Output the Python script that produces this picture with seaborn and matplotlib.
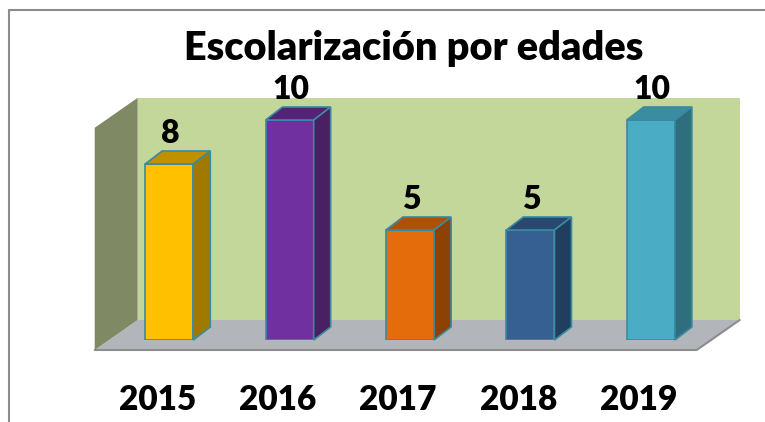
import matplotlib
matplotlib.use('Agg')
import matplotlib.pyplot as plt
from matplotlib.patches import Polygon
from matplotlib.lines import Line2D
import seaborn as sns

anios = ['2015', '2016', '2017', '2018', '2019']
valores = [8, 10, 5, 5, 10]
color_frente = ['#FFC000', '#7030A0', '#E46C0A', '#366092', '#4BACC6']
color_tapa = ['#BF9000', '#542378', '#AC5108', '#284870', '#3A8CA0']
color_lado = ['#A07A00', '#4A1F63', '#8C4205', '#223E5F', '#2F6E7E']
titulo = 'Escolarización por edades'

sns.set_theme(style='white')
plt.rcParams['font.family'] = ['Lato', 'DejaVu Sans']

W, H = 765, 422
fig = plt.figure(figsize=(W / 100, H / 100), dpi=100)

# plano frontal de las barras (en pixeles de la figura)
ax = fig.add_axes([109 / W, (H - 340) / H, 602 / W, 220 / H])
sns.barplot(x=anios, y=valores, hue=anios, palette=color_frente, legend=False,
            width=0.4, saturation=1, edgecolor='#3B8AA0', linewidth=1.2,
            ax=ax, zorder=3)
ax.set_xlim(-0.5, 4.5)
ax.set_ylim(0, 10)
ax.axis('off')

# las barras de seaborn, antes de anadir mas parches
barras = sorted(ax.patches[:], key=lambda p: p.get_x())
barras = [p for p in barras if p.get_height() > 0]

# pixeles por unidad de datos
sx = 602 / 5
sy = 220 / 10


def desp(x, y, dx, dy):
    return (x + dx / sx, y + dy / sy)


# paredes y suelo del "3D"
fr = (-14.3, -10)
bk = (28.7, 20)
x0, x1 = -0.5, 4.5
ytop = 10.1
suelo = [desp(x0, 0, *fr), desp(x1, 0, *fr), desp(x1, 0, *bk), desp(x0, 0, *bk)]
fondo = [desp(x0, 0, *bk), desp(x1, 0, *bk), desp(x1, ytop, *bk), desp(x0, ytop, *bk)]
lateral = [desp(x0, 0, *fr), desp(x0, 0, *bk), desp(x0, ytop, *bk), desp(x0, ytop, *fr)]
ax.add_patch(Polygon(fondo, fc='#C4D79B', ec='none', zorder=0.5, clip_on=False))
ax.add_patch(Polygon(suelo, fc='#B2B6BA', ec='none', zorder=1, clip_on=False))
ax.add_patch(Polygon(lateral, fc='#7F8A64', ec='none', zorder=1.5, clip_on=False))
borde = [desp(x0, 0, *fr), desp(x1, 0, *fr), desp(x1, 0, *bk)]
ax.plot([p[0] for p in borde], [p[1] for p in borde], color='#8C8C8C', lw=1.5,
        zorder=1.2, clip_on=False)

# caras superior y lateral de cada barra
bd = (17, 13)
for i, p in enumerate(barras):
    x = p.get_x()
    w = p.get_width()
    h = p.get_height()
    tapa = [(x, h), (x + w, h), desp(x + w, h, *bd), desp(x, h, *bd)]
    lado = [(x + w, 0), desp(x + w, 0, *bd), desp(x + w, h, *bd), (x + w, h)]
    ax.add_patch(Polygon(tapa, fc=color_tapa[i], ec='#3B8AA0', lw=1.2,
                         zorder=3, clip_on=False))
    ax.add_patch(Polygon(lado, fc=color_lado[i], ec='#3B8AA0', lw=1.2,
                         zorder=3, clip_on=False))
    ax.annotate(str(valores[i]), (x + w / 2, h), xytext=(0.7, 21 * 0.72),
                textcoords='offset points', ha='center', va='baseline',
                fontsize=23, fontweight='heavy', color='black', annotation_clip=False)
    ax.annotate(anios[i], (x + w / 2, 0), xytext=(-12 * 0.72, -70 * 0.72),
                textcoords='offset points', ha='center', va='baseline',
                fontsize=24, fontweight='heavy', color='black', annotation_clip=False)

fig.text(414 / W, 1 - 60 / H, titulo, ha='center', va='baseline',
         fontsize=28.5, fontweight='heavy', color='black')

# marco del grafico
fig.add_artist(Line2D([9 / W, 9 / W], [0, 1 - 10 / H], color='#8C8C8C', lw=1.5))
fig.add_artist(Line2D([9 / W, 1], [1 - 10 / H, 1 - 10 / H], color='#8C8C8C', lw=1.5))

fig.savefig('out.png', dpi=100)
